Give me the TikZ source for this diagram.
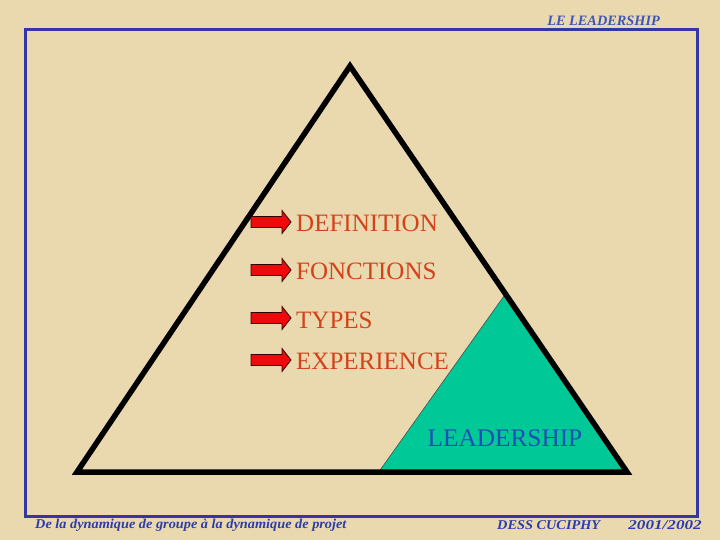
\documentclass[tikz,border=0pt]{standalone}
\usepackage{fontspec}
\setmainfont{Liberation Serif}
\definecolor{bgbeige}{HTML}{EAD8AF}
\definecolor{framebl}{HTML}{3535A5}
\definecolor{itemred}{HTML}{D2431A}
\definecolor{leadgreen}{HTML}{00C896}
\definecolor{leadblue}{HTML}{1F4FB5}
\definecolor{headbl}{HTML}{3D55B8}
\definecolor{footbl}{HTML}{2B3DAE}
\definecolor{arrred}{HTML}{EE0A0A}
\tikzset{
  itemtext/.style={anchor=west,inner sep=0pt,text=itemred,font=\fontsize{25}{29}\selectfont},
  smalltext/.style={inner sep=0pt,font=\fontsize{14.3}{16}\selectfont\bfseries\itshape},
  foottext/.style={inner sep=0pt,text=footbl,font=\fontsize{13.5}{15}\selectfont\bfseries\itshape},
  arrowshape/.style={fill=arrred,draw=black!80!red,line width=0.8pt,line join=miter},
}
\newcommand{\blockarrow}[2]{%
  \draw[arrowshape] (251,#1-5.5) -- (282,#1-5.5) -- (282,#1-11.5) -- (291,#1) -- (282,#1+11.5) -- (282,#1+5.5) -- (251,#1+5.5) -- cycle;
  \coordinate (#2) at (291,#1);
}
\begin{document}
\begin{tikzpicture}[x=1pt,y=-1pt]
\useasboundingbox (0,0) rectangle (720,540);
\fill[bgbeige] (0,0) rectangle (720,540);
% frame
\draw[framebl,line width=3pt] (25,30) rectangle (697,516);
% green triangle
\draw[fill=leadgreen,draw=black!70,line width=0.6pt] (504,296) -- (378,473) -- (626,473) -- cycle;
% big triangle
\draw[black,line width=5.5pt,line join=miter] (350,66) -- (627,472) -- (77,472) -- cycle;
% arrows
\blockarrow{222}{a1}
\blockarrow{270}{a2}
\blockarrow{318}{a3}
\blockarrow{360}{a4}
% items
\node[itemtext] (t1) at (296,223) {DEFINITION};
\node[itemtext] (t2) at (296,271) {FONCTIONS};
\node[itemtext] (t3) at (296,320) {TYPES};
\node[itemtext] (t4) at (296,361) {EXPERIENCE};
\node[inner sep=0pt,text=leadblue,font=\fontsize{25.3}{29}\selectfont] (lead) at (505,438) {LEADERSHIP};
% header and footer
\node[smalltext,text=headbl,anchor=east] (head) at (660,21) {LE LEADERSHIP};
\node[foottext,anchor=west,xscale=1.06] (footl) at (35,525.5) {De la dynamique de groupe à la dynamique de projet};
\node[foottext,anchor=west,xscale=1.06] (footr) at (497,525.5) {DESS CUCIPHY};
\node[foottext,anchor=east,xscale=1.27] (fyear) at (702,525.5) {2001/2002};
\end{tikzpicture}
\end{document}
